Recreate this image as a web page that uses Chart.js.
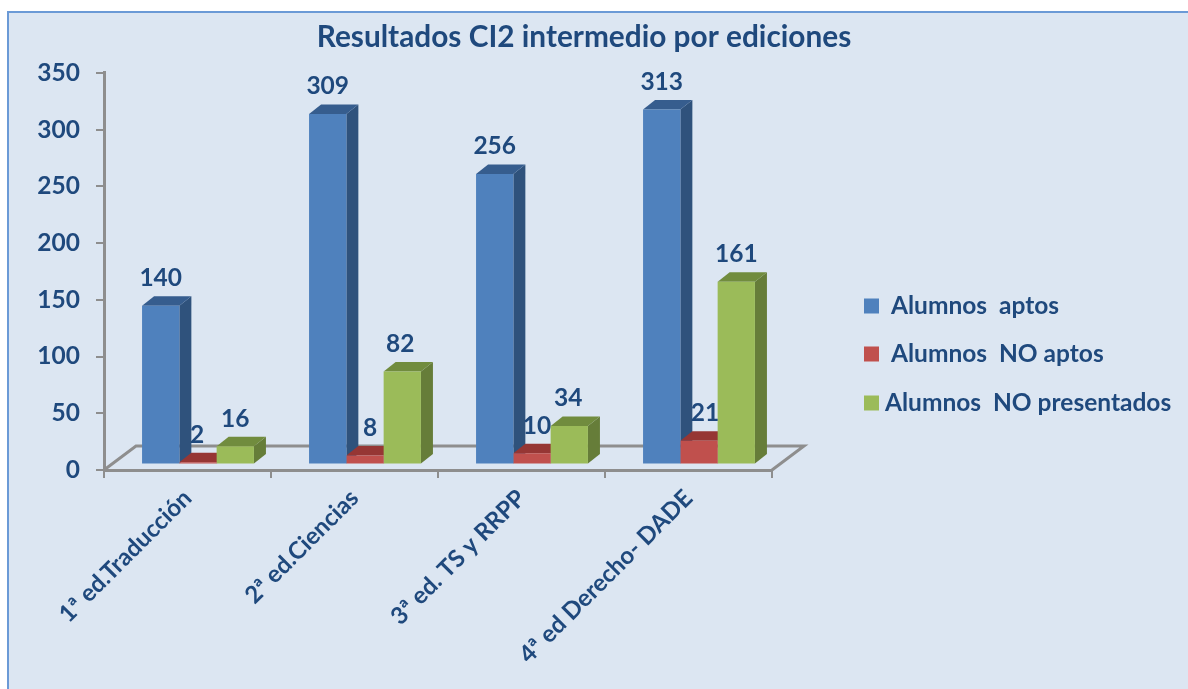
<!DOCTYPE html>
<html>
<head>
<meta charset="utf-8">
<title>Resultados CI2 intermedio por ediciones</title>
<script src="https://cdn.jsdelivr.net/npm/chart.js@4/dist/chart.umd.min.js"></script>
<style>
    html, body { margin: 0; padding: 0; background: #fff; overflow: hidden; }
    #panel { position: absolute; left: 7px; top: 11px; width: 1181px; height: 678px; box-sizing: border-box; background: #dce6f2; border-left: 2px solid #6b9ad6; border-top: 2px solid #6b9ad6; }
    #chart { position: absolute; left: 0; top: 0; }
</style>
</head>
<body>
<div id="panel"></div>
<canvas id="chart" width="1188" height="689"></canvas>
<script>
const titleText = 'Resultados CI2 intermedio por ediciones';
const categories = ['1ª ed.Traducción', '2ª ed.Ciencias', '3ª ed. TS y RRPP', '4ª ed Derecho- DADE'];
const seriesNames = ['Alumnos  aptos', 'Alumnos  NO aptos', 'Alumnos  NO presentados'];
const aptos = [140, 309, 256, 313];
const noAptos = [2, 8, 10, 21];
const noPresentados = [16, 82, 34, 161];
const yMax = 350;
const yStep = 50;

const TEXT = '#1f497d';
const AXIS = '#8e8e8e';
const FONT = 'Lato, Carlito, sans-serif';
const faces = [
    { front: '#4f81bd', side: '#2f527c', top: '#365d8e' },
    { front: '#c0504d', side: '#8c3431', top: '#963634' },
    { front: '#9bbb59', side: '#667d39', top: '#718c3e' }
];
// bars sit on a floor in front of the axis corner
const barShift = { x: 10.5, y: -5.5 };
const depth = { x: 12, y: 9.5 };
const floorDepth = { x: 32, y: 24 };
// small label nudges per series, as in the original
const labelNudge = [[0, 0, 0, 0], [-1, 5, 5, 6], [0, -2, -1, 0]];
const legendRows = [
    { y: 306, textX: 891 },
    { y: 354, textX: 891 },
    { y: 403, textX: 885 }
];

const fakeDepth = {
    id: 'fakeDepth',
    afterLayout(chart) {
        // title is centred over the whole figure, not over the plot
        chart.titleBlock.left = 0;
        chart.titleBlock.right = 1168;
    },
    beforeDatasetsDraw(chart) {
        const ctx = chart.ctx;
        const a = chart.chartArea;
        ctx.save();
        ctx.strokeStyle = AXIS;
        ctx.lineWidth = 3;
        ctx.beginPath();
        ctx.moveTo(a.left, a.bottom);
        ctx.lineTo(a.left + floorDepth.x, a.bottom - floorDepth.y);
        ctx.lineTo(a.right + floorDepth.x, a.bottom - floorDepth.y);
        ctx.lineTo(a.right, a.bottom);
        ctx.stroke();
        ctx.restore();
        ctx.save();
        ctx.translate(barShift.x, barShift.y);
        // side and top faces go first so every front face lands over them
        chart.data.datasets.forEach(function(ds, i) {
            const c = faces[i];
            chart.getDatasetMeta(i).data.forEach(function(bar) {
                const p = bar.getProps(['x', 'y', 'base', 'width'], true);
                const right = p.x + p.width / 2;
                const left = p.x - p.width / 2;
                ctx.fillStyle = c.side;
                ctx.beginPath();
                ctx.moveTo(right, p.y);
                ctx.lineTo(right + depth.x, p.y - depth.y);
                ctx.lineTo(right + depth.x, p.base - depth.y);
                ctx.lineTo(right, p.base);
                ctx.closePath();
                ctx.fill();
                ctx.fillStyle = c.top;
                ctx.beginPath();
                ctx.moveTo(left, p.y);
                ctx.lineTo(left + depth.x, p.y - depth.y);
                ctx.lineTo(right + depth.x, p.y - depth.y);
                ctx.lineTo(right, p.y);
                ctx.closePath();
                ctx.fill();
            });
        });
    },
    afterDatasetsDraw(chart) {
        const ctx = chart.ctx;
        ctx.font = 'bold 24.5px ' + FONT;
        ctx.fillStyle = TEXT;
        ctx.textAlign = 'center';
        ctx.textBaseline = 'middle';
        chart.data.datasets.forEach(function(ds, i) {
            chart.getDatasetMeta(i).data.forEach(function(bar, j) {
                ctx.fillText(ds.data[j], bar.x + labelNudge[i][j], bar.y - 27.5);
            });
        });
        ctx.restore();
    },
    afterDraw(chart) {
        const ctx = chart.ctx;
        ctx.save();
        ctx.font = 'bold 24.5px ' + FONT;
        ctx.textAlign = 'left';
        ctx.textBaseline = 'middle';
        chart.data.datasets.forEach(function(ds, i) {
            const row = legendRows[i];
            ctx.fillStyle = ds.backgroundColor;
            ctx.fillRect(864, row.y - 7.5, 15, 15);
            ctx.fillStyle = TEXT;
            ctx.fillText(ds.label, row.textX, row.y);
        });
        ctx.restore();
    }
};

new Chart(document.getElementById('chart'), {
    type: 'bar',
    data: {
        labels: categories,
        datasets: [aptos, noAptos, noPresentados].map(function(values, i) {
            return {
                label: seriesNames[i],
                data: values,
                backgroundColor: faces[i].front,
                borderWidth: 0,
                barPercentage: 1,
                categoryPercentage: 0.67
            };
        })
    },
    plugins: [fakeDepth],
    options: {
        responsive: false,
        animation: false,
        layout: { padding: { left: 0, top: 0, right: 416, bottom: 0 } },
        plugins: {
            legend: { display: false },
            tooltip: { enabled: false },
            title: {
                display: true,
                text: titleText,
                color: TEXT,
                font: { family: FONT, size: 29.8, weight: 'bold' },
                padding: { top: 20, bottom: 17.2 }
            }
        },
        scales: {
            x: {
                afterFit: function(scale) { scale.height = 219; },
                grid: { display: true, drawOnChartArea: false, offset: true, color: AXIS, tickLength: 8, lineWidth: 2 },
                border: { color: AXIS, width: 3 },
                ticks: {
                    color: TEXT,
                    font: { family: FONT, size: 24, weight: 'bold' },
                    minRotation: 45,
                    maxRotation: 45,
                    autoSkip: false,
                    padding: 6
                }
            },
            y: {
                min: 0,
                max: yMax,
                afterFit: function(scale) { scale.width = 104; },
                grid: { display: true, drawOnChartArea: false, color: AXIS, tickLength: 8, lineWidth: 2 },
                border: { color: AXIS, width: 3 },
                ticks: {
                    stepSize: yStep,
                    color: TEXT,
                    font: { family: FONT, size: 24.5, weight: 'bold' },
                    padding: 16
                }
            }
        }
    }
});
</script>
</body>
</html>
